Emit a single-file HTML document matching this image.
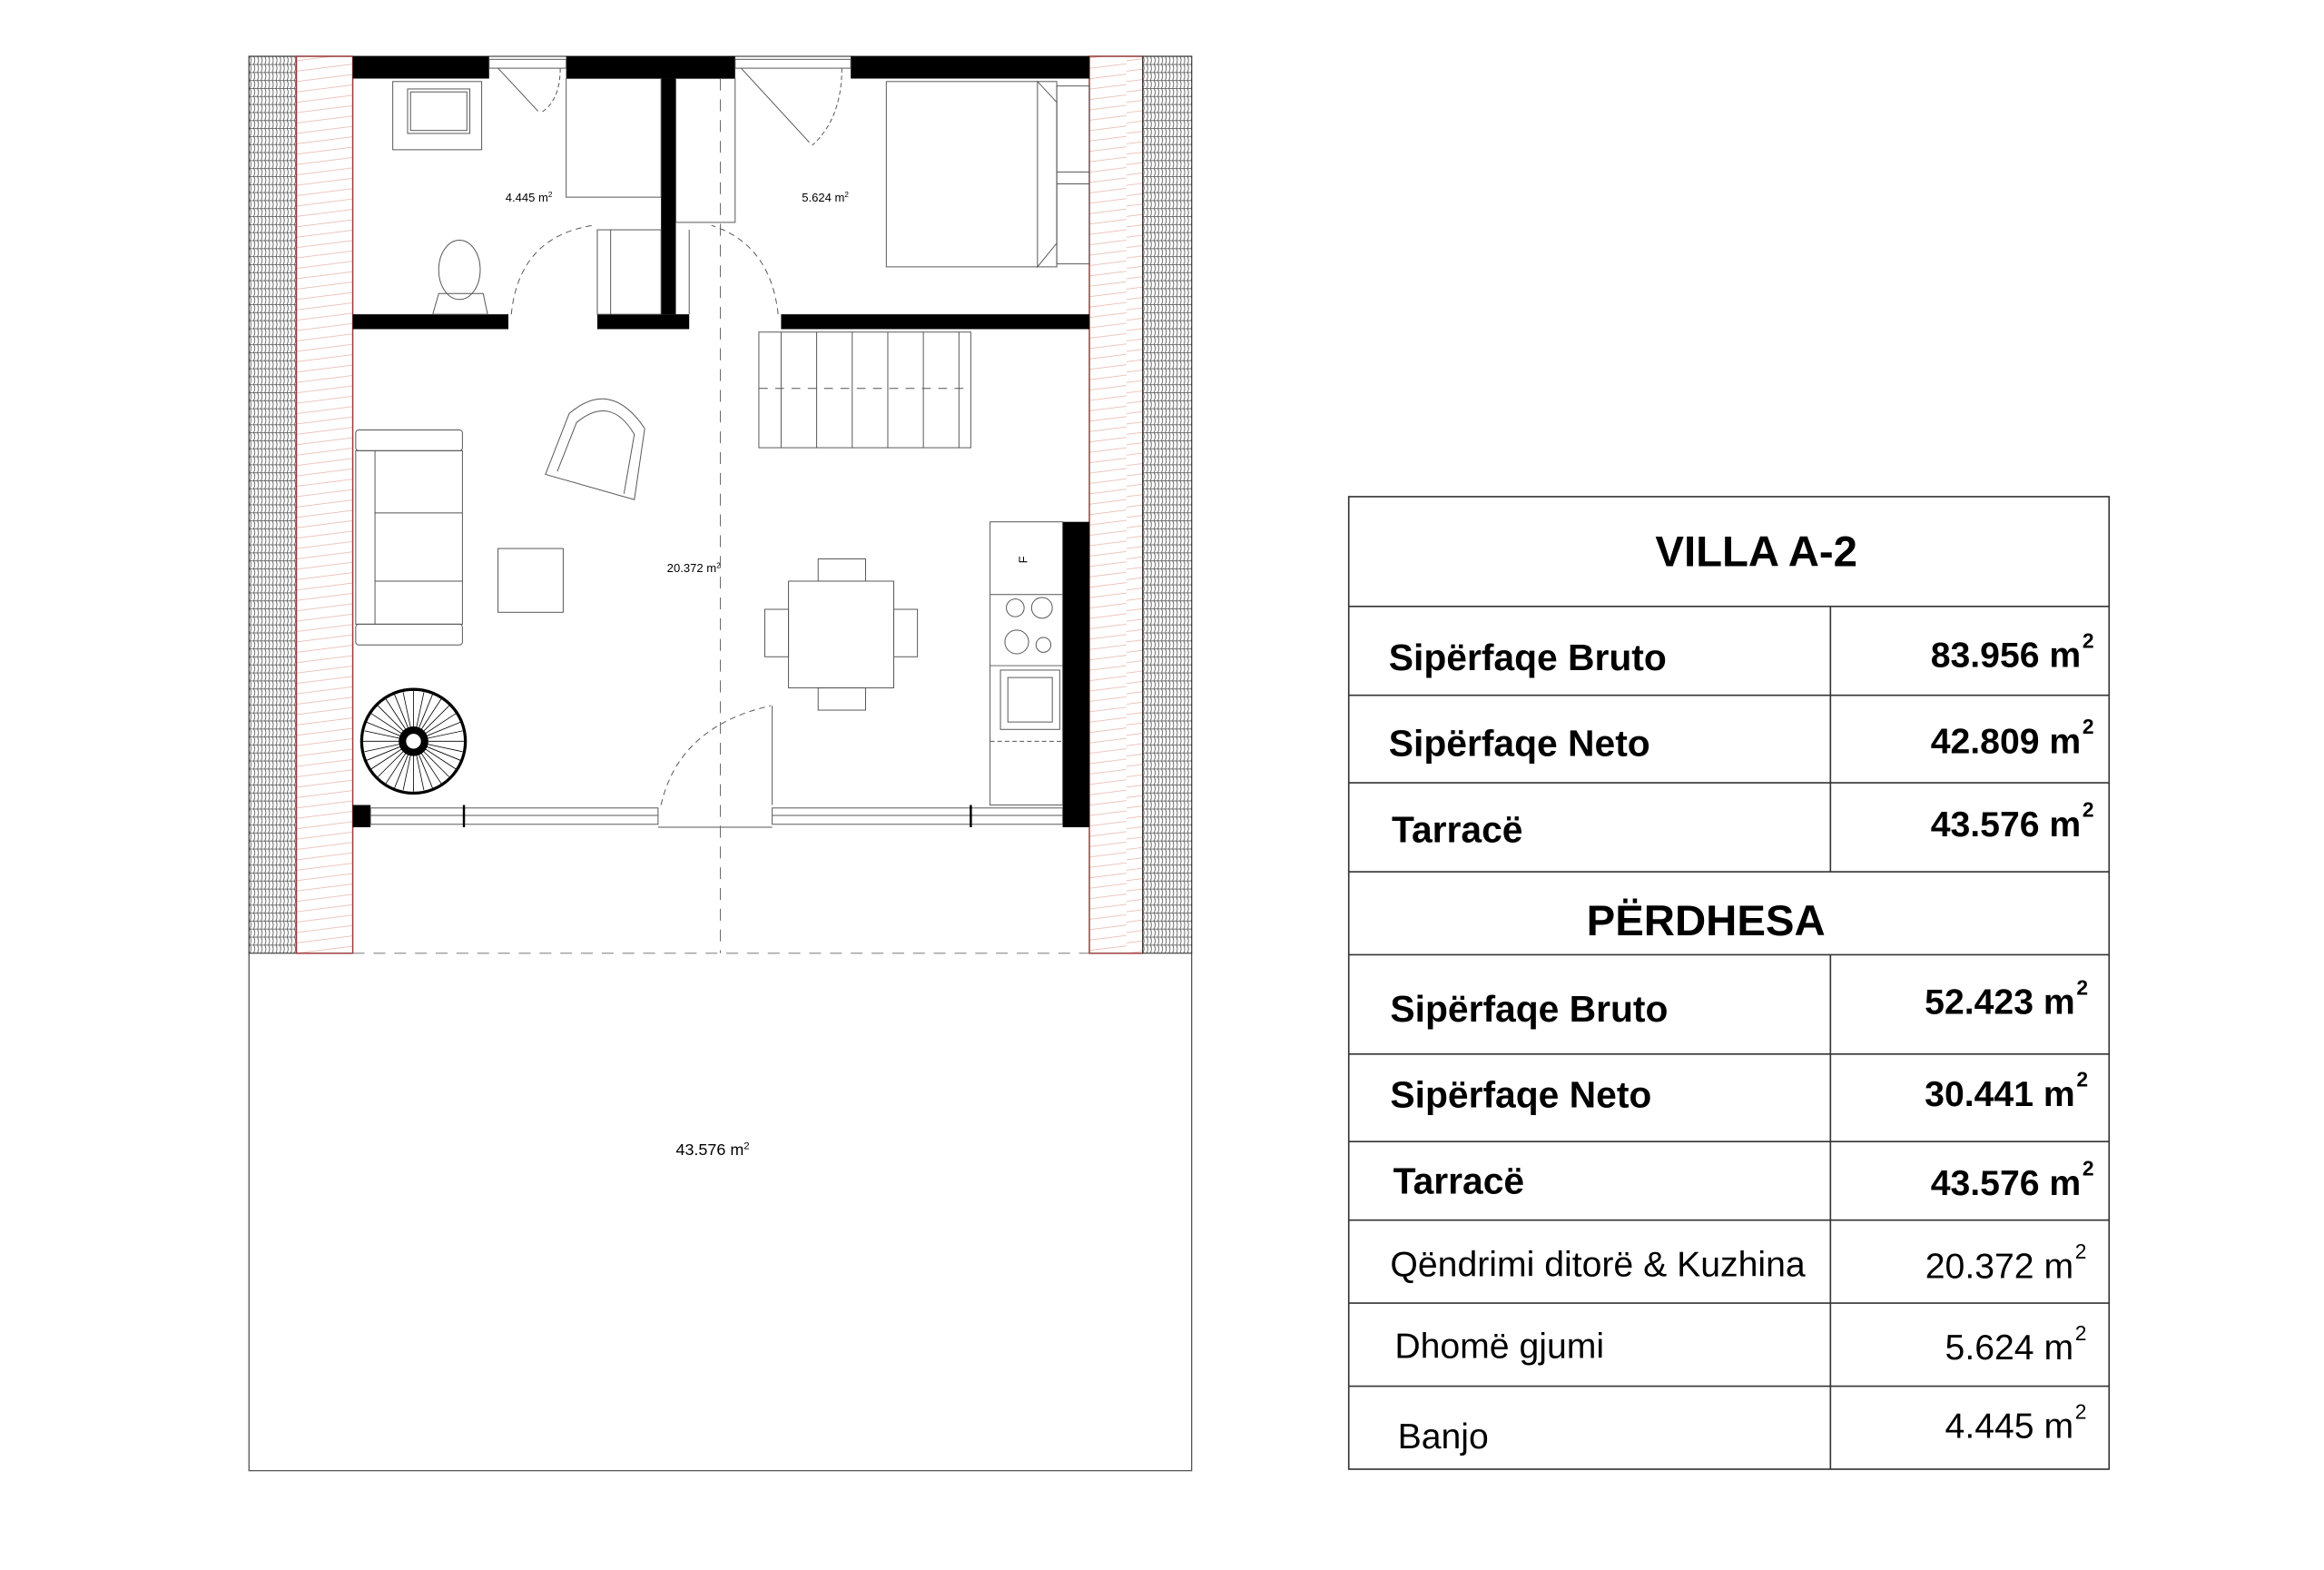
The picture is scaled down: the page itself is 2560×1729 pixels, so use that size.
<!DOCTYPE html>
<html><head><meta charset="utf-8"><style>
html,body{margin:0;padding:0;background:#fff}
svg{display:block}
</style></head><body>
<svg width="2560" height="1729" viewBox="0 0 1568 1059" preserveAspectRatio="none" xmlns="http://www.w3.org/2000/svg" font-family="Liberation Sans, Arial, sans-serif">
<defs>
<pattern id="tile" width="5" height="5.4" patternUnits="userSpaceOnUse">
<rect width="5" height="5.4" fill="#fff"/>
<line x1="0" y1="0.3" x2="5" y2="0.3" stroke="#444" stroke-width="0.45"/>
<path d="M1.2,0.3 Q2.6,2.7 1.2,5.4" fill="none" stroke="#444" stroke-width="0.45"/>
<path d="M3.7,0.3 Q5.1,2.7 3.7,5.4" fill="none" stroke="#444" stroke-width="0.45"/>
</pattern>
<pattern id="hatch" width="40" height="7" patternUnits="userSpaceOnUse">
<rect width="40" height="7" fill="#fff"/>
<line x1="0" y1="6" x2="40" y2="1" stroke="#e6b4a8" stroke-width="0.5"/>
</pattern>
</defs>
<rect width="1568" height="1059" fill="#fff"/>

<rect x="168" y="38" width="636" height="954" fill="none" stroke="#555" stroke-width="0.8"/>
<rect x="168" y="38" width="32" height="605" fill="url(#tile)" stroke="#333" stroke-width="0.6"/>
<rect x="200" y="38" width="38" height="605" fill="url(#hatch)" stroke="#9a3a3a" stroke-width="0.9"/>
<rect x="735" y="38" width="36" height="605" fill="url(#hatch)" stroke="#9a3a3a" stroke-width="0.9"/>
<rect x="771" y="38" width="33" height="605" fill="url(#tile)" stroke="#333" stroke-width="0.6"/>

<g fill="#000">
<rect x="238" y="38" width="92" height="15"/>
<rect x="382" y="38" width="114" height="15"/>
<rect x="574" y="38" width="161" height="15"/>
<rect x="446" y="53" width="10" height="159"/>
<rect x="238" y="212" width="105" height="10"/>
<rect x="403" y="212" width="62" height="10"/>
<rect x="527" y="212" width="208" height="10"/>
<rect x="238" y="543" width="12" height="15"/>
<rect x="717" y="352" width="18" height="206"/>
</g>
<g fill="none" stroke="#555" stroke-width="0.6">
<rect x="330" y="40" width="52" height="6"/><rect x="496" y="40" width="78" height="6"/>
<line x1="336" y1="46" x2="363" y2="75"/><path d="M378,46 Q378,68 365,76" stroke-dasharray="3,2"/>
<line x1="500" y1="46" x2="546" y2="96"/><path d="M568,46 Q568,80 548,98" stroke-dasharray="3,2"/>
<rect x="265" y="55" width="60" height="46"/><rect x="275" y="60" width="42" height="30"/><rect x="277" y="62" width="38" height="26"/>
<rect x="382" y="53" width="64" height="80"/>
<rect x="456" y="53" width="40" height="97"/>
<rect x="403" y="155" width="43" height="57"/>
<line x1="412" y1="155" x2="412" y2="212"/>
<line x1="465" y1="155" x2="465" y2="212"/>
<ellipse cx="310" cy="182" rx="14" ry="20"/>
<path d="M292,212 L296,198 L326,198 L329,212 Z"/>
<path d="M345,212 Q350,160 400,152" stroke-dasharray="4,3"/>
<path d="M525,212 Q520,165 480,152" stroke-dasharray="4,3"/>
<rect x="598" y="55" width="115" height="125"/>
<polygon points="700,55 713,69 713,164 700,180"/>
<rect x="713" y="58" width="22" height="120"/>
<line x1="713" y1="116" x2="735" y2="116"/><line x1="713" y1="124" x2="735" y2="124"/>
<rect x="512" y="224" width="143" height="78"/>
<line x1="527" y1="224" x2="527" y2="302"/>
<line x1="551" y1="224" x2="551" y2="302"/><line x1="575" y1="224" x2="575" y2="302"/>
<line x1="599" y1="224" x2="599" y2="302"/><line x1="623" y1="224" x2="623" y2="302"/>
<line x1="647" y1="224" x2="647" y2="302"/>
<line x1="512" y1="262" x2="655" y2="262" stroke-dasharray="6,5"/>
<rect x="240" y="290" width="72" height="14" rx="2"/>
<rect x="240" y="304" width="72" height="117"/>
<rect x="240" y="421" width="72" height="14" rx="2"/>
<line x1="253" y1="304" x2="253" y2="421"/>
<line x1="253" y1="346" x2="312" y2="346"/><line x1="253" y1="392" x2="312" y2="392"/>
<path d="M368,320 L384,279 Q412,255 435,289 L428,337 Z"/>
<path d="M376,318 L389,285 Q412,266 428,293 L421,333"/>
<rect x="336" y="370" width="44" height="43"/>
<rect x="532" y="392" width="71" height="72"/>
<rect x="552" y="377" width="32" height="15"/><rect x="552" y="464" width="32" height="15"/>
<rect x="516" y="411" width="16" height="32"/><rect x="603" y="411" width="16" height="32"/>
<rect x="668" y="352" width="49" height="191"/>
<line x1="668" y1="401" x2="717" y2="401"/><line x1="668" y1="449" x2="717" y2="449"/>
<circle cx="685" cy="410" r="6"/><circle cx="703" cy="410" r="7"/><circle cx="686" cy="433" r="8"/><circle cx="704" cy="435" r="5"/>
<rect x="675" y="452" width="40" height="40"/><rect x="680" y="457" width="30" height="30"/>
<line x1="668" y1="500" x2="717" y2="500" stroke-dasharray="3,2"/>
<path d="M446,543 Q458,490 520,476" stroke-dasharray="4,3"/>
<line x1="521" y1="476" x2="521" y2="543"/>
<rect x="250" y="545" width="194" height="11"/><line x1="250" y1="550" x2="444" y2="550"/>
<rect x="521" y="545" width="196" height="11"/><line x1="521" y1="550" x2="717" y2="550"/>
<line x1="444" y1="558" x2="521" y2="558"/>
</g>
<g stroke="#000" stroke-width="1.5">
<line x1="313" y1="543" x2="313" y2="558"/><line x1="655" y1="543" x2="655" y2="558"/>
</g>
<text x="688" y="381" font-size="8" transform="rotate(-90 690 378)">F</text>
<circle cx="279" cy="500" r="35" fill="none" stroke="#000" stroke-width="2"/>
<g stroke="#000" stroke-width="0.5">
<line x1="245" y1="500" x2="313" y2="500"/><line x1="279" y1="466" x2="279" y2="534"/>
<line x1="255" y1="476" x2="303" y2="524"/><line x1="303" y1="476" x2="255" y2="524"/>
<line x1="247" y1="487" x2="311" y2="513"/><line x1="247" y1="513" x2="311" y2="487"/>
<line x1="266" y1="468" x2="292" y2="532"/><line x1="292" y1="468" x2="266" y2="532"/>
<line x1="246" y1="493" x2="312" y2="507"/><line x1="246" y1="507" x2="312" y2="493"/>
<line x1="272" y1="467" x2="286" y2="533"/><line x1="286" y1="467" x2="272" y2="533"/>
<line x1="250" y1="481" x2="308" y2="519"/><line x1="250" y1="519" x2="308" y2="481"/>
<line x1="260" y1="471" x2="298" y2="529"/><line x1="298" y1="471" x2="260" y2="529"/>
</g>
<circle cx="279" cy="500" r="10" fill="#000"/><circle cx="279" cy="500" r="5" fill="#fff"/>
<g stroke="#666" stroke-width="0.6" stroke-dasharray="8,6" fill="none">
<line x1="486" y1="53" x2="486" y2="643"/>
<line x1="238" y1="643" x2="735" y2="643"/>
</g>
<g font-size="8" fill="#000">
<text x="341" y="136">4.445 m<tspan dy="-3" font-size="5">2</tspan></text>
<text x="541" y="136">5.624 m<tspan dy="-3" font-size="5">2</tspan></text>
<text x="450" y="386">20.372 m<tspan dy="-3" font-size="5">2</tspan></text>
<text x="456" y="779" font-size="11">43.576 m<tspan dy="-4" font-size="7">2</tspan></text>
</g>

<g stroke="#333" stroke-width="1" fill="none">
<rect x="910" y="335" width="513" height="656"/>
<line x1="910" y1="409" x2="1423" y2="409"/><line x1="910" y1="469" x2="1423" y2="469"/>
<line x1="910" y1="528" x2="1423" y2="528"/><line x1="910" y1="588" x2="1423" y2="588"/>
<line x1="910" y1="644" x2="1423" y2="644"/><line x1="910" y1="711" x2="1423" y2="711"/>
<line x1="910" y1="770" x2="1423" y2="770"/><line x1="910" y1="823" x2="1423" y2="823"/>
<line x1="910" y1="879" x2="1423" y2="879"/><line x1="910" y1="935" x2="1423" y2="935"/>
<line x1="1235" y1="409" x2="1235" y2="588"/><line x1="1235" y1="644" x2="1235" y2="991"/>
</g>
<g fill="#000" font-weight="bold">
<text x="1185" y="382" font-size="29" text-anchor="middle">VILLA  A-2</text>
<text x="1151" y="631" font-size="29" text-anchor="middle">PËRDHESA</text>
<g font-size="25">
<text x="937" y="452">Sipërfaqe Bruto</text>
<text x="937" y="510">Sipërfaqe Neto</text>
<text x="939" y="568">Tarracë</text>
<text x="938" y="689">Sipërfaqe Bruto</text>
<text x="938" y="747">Sipërfaqe Neto</text>
<text x="940" y="805">Tarracë</text>
</g>
<g font-size="24" text-anchor="end">
<text x="1404" y="450">83.956 m</text><text x="1404" y="508">42.809 m</text><text x="1404" y="564">43.576 m</text>
<text x="1400" y="684">52.423 m</text><text x="1400" y="746">30.441 m</text><text x="1404" y="806">43.576 m</text>
</g>
<g font-size="14">
<text x="1405" y="437">2</text><text x="1405" y="495">2</text><text x="1405" y="551">2</text>
<text x="1401" y="671">2</text><text x="1401" y="733">2</text><text x="1405" y="793">2</text>
</g>
</g>
<g fill="#000" font-size="24">
<text x="938" y="861">Qëndrimi ditorë &amp; Kuzhina</text>
<text x="941" y="916">Dhomë gjumi</text>
<text x="943" y="977">Banjo</text>
<g text-anchor="end">
<text x="1399" y="862">20.372 m</text><text x="1399" y="917">5.624 m</text><text x="1399" y="970">4.445 m</text>
</g>
<g font-size="14"><text x="1400" y="849">2</text><text x="1400" y="904">2</text><text x="1400" y="957">2</text></g>
</g>
</svg>
</body></html>
